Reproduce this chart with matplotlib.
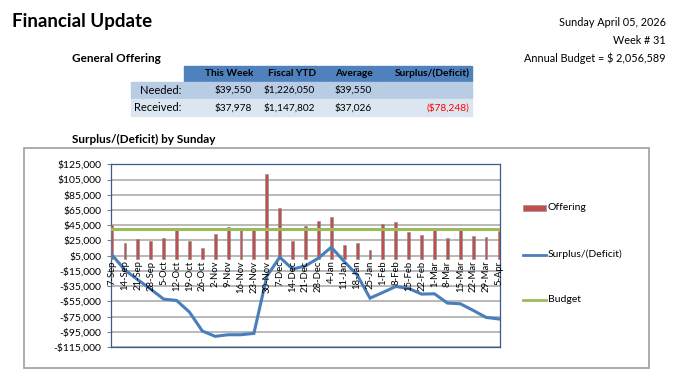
import matplotlib
matplotlib.use('Agg')
import matplotlib.pyplot as plt
from matplotlib.patches import Rectangle
from matplotlib.lines import Line2D

plt.rcParams['font.family'] = ['Lato', 'DejaVu Sans']

# weekly data
weeks = ['7-Sep', '14-Sep', '21-Sep', '28-Sep', '5-Oct', '12-Oct', '19-Oct', '26-Oct',
         '2-Nov', '9-Nov', '16-Nov', '23-Nov', '30-Nov', '7-Dec', '14-Dec', '21-Dec',
         '28-Dec', '4-Jan', '11-Jan', '18-Jan', '25-Jan', '1-Feb', '8-Feb', '15-Feb',
         '22-Feb', '1-Mar', '8-Mar', '15-Mar', '22-Mar', '29-Mar', '5-Apr']
offering = [45800, 21000, 27500, 24500, 28800, 38900, 23600, 15700,
            33600, 42400, 38900, 41500, 112500, 67300, 24900, 44100,
            50200, 55900, 18800, 21800, 12200, 46300, 49400, 36700,
            32300, 39700, 27900, 38400, 31000, 30100, 37978]
surplus = [6100, -14000, -26700, -39000, -52100, -53800, -69100, -94000,
           -101000, -98900, -98900, -97100, -22300, 3000, -12700, -8400,
           1700, 16100, -2700, -20200, -50800, -43300, -35500, -38100,
           -45500, -45100, -57300, -58200, -66900, -76100, -78248]
budget = [39550] * len(weeks)

# table contents
col_heads = ['This Week', 'Fiscal YTD', 'Average', 'Surplus/(Deficit)']
row_heads = ['Needed:', 'Received:']
needed = ['$39,550', '$1,226,050', '$39,550', '']
received = ['$37,978', '$1,147,802', '$37,026', '($78,248)']

W, H = 676, 375
fig = plt.figure(figsize=(W / 100, H / 100), dpi=100)


def fx(x):
    return x / W


def fy(y):
    return 1 - y / H


# header texts
fig.text(fx(12), fy(21), 'Financial Update', fontsize=13.5, fontweight='bold', va='center')
fig.text(fx(666), fy(22), 'Sunday April 05, 2026', fontsize=7.8, ha='right', va='center')
fig.text(fx(666), fy(40), 'Week # 31', fontsize=7.8, ha='right', va='center')
fig.text(fx(666), fy(58), 'Annual Budget = $ 2,056,589', fontsize=7.8, ha='right', va='center')
fig.text(fx(72), fy(58), 'General Offering', fontsize=8.5, fontweight='bold', va='center')

# offering table
col_x = [184, 256, 319, 376, 473]
label_x0 = 131
rows_y = [(82, 98.5), (99.5, 116)]
row_colors = ['#B8CCE4', '#DCE6F1']

for i in range(4):
    fig.patches.append(Rectangle((fx(col_x[i]), fy(81)), fx(col_x[i + 1] - col_x[i] - 1), 15 / H,
                                 transform=fig.transFigure, color='#4F81BD'))
    fig.text(fx(col_x[i + 1] - 3), fy(73.5), col_heads[i], fontsize=7.3, fontweight='bold',
             ha='right', va='center')

for r, (y0, y1) in enumerate(rows_y):
    vals = needed if r == 0 else received
    fig.patches.append(Rectangle((fx(label_x0), fy(y1)), fx(col_x[0] - label_x0 - 1), (y1 - y0) / H,
                                 transform=fig.transFigure, color=row_colors[r]))
    fig.text(fx(col_x[0] - 3), fy((y0 + y1) / 2), row_heads[r], fontsize=8, ha='right', va='center')
    for i in range(4):
        fig.patches.append(Rectangle((fx(col_x[i]), fy(y1)), fx(col_x[i + 1] - col_x[i] - 1),
                                     (y1 - y0) / H, transform=fig.transFigure, color=row_colors[r]))
        color = '#FF0000' if vals[i].startswith('(') else 'black'
        fig.text(fx(col_x[i + 1] - 4), fy((y0 + y1) / 2), vals[i], fontsize=7.3, ha='right',
                 va='center', color=color)

# chart frame and title
fig.patches.append(Rectangle((fx(24), fy(368)), fx(649 - 24), (368 - 147.5) / H,
                             transform=fig.transFigure, fill=False, edgecolor='#A6A6A6', lw=1.3))
fig.text(fx(72), fy(139), 'Surplus/(Deficit) by Sunday', fontsize=8.5, fontweight='bold', va='center')

ax = fig.add_axes([fx(111), fy(347), fx(500 - 111), (347 - 164.3) / H])
x = list(range(len(weeks)))
ax.bar(x, offering, width=0.22, color='#C0504D', edgecolor='#8C8C8C', linewidth=0.4, zorder=3)
ax.plot(x, budget, color='#9BBB59', lw=2.2, zorder=4)
ax.plot(x, surplus, color='#4A7EBB', lw=2.2, zorder=5, solid_joinstyle='miter')

ax.set_ylim(-115000, 125000)
ax.set_xlim(-0.08, 30.08)
yt = list(range(-115000, 125001, 20000))
ax.set_yticks(yt)
ax.set_yticklabels([('-$' if v < 0 else '$') + f'{abs(v):,}' for v in yt], fontsize=7.5)
ax.tick_params(axis='y', length=3, color='#808080', pad=4)
ax.set_xticks([])
ax.grid(axis='y', color='#A6A6A6', lw=1.1, zorder=0)
for s in ax.spines.values():
    s.set_color('#385D8A')
    s.set_linewidth(0.9)

for i, w in enumerate(weeks):
    ax.text(i, -1500, w, rotation=90, ha='center', va='top', fontsize=6.8, zorder=6)

# legend drawn at fixed spots to the right of the plot
fig.patches.append(Rectangle((fx(523), fy(211)), fx(23), 6 / H, transform=fig.transFigure,
                             facecolor='#C0504D', edgecolor='#8C8C8C', lw=0.4))
fig.text(fx(548), fy(208), 'Offering', fontsize=7.5, va='center')
fig.lines.append(Line2D([fx(523), fx(546)], [fy(254.5), fy(254.5)], transform=fig.transFigure,
                        color='#4A7EBB', lw=2))
fig.text(fx(548), fy(254), 'Surplus/(Deficit)', fontsize=7.5, va='center')
fig.lines.append(Line2D([fx(523), fx(546)], [fy(299.5), fy(299.5)], transform=fig.transFigure,
                        color='#9BBB59', lw=2))
fig.text(fx(548), fy(299), 'Budget', fontsize=7.5, va='center')

fig.savefig('out.png', dpi=100)
